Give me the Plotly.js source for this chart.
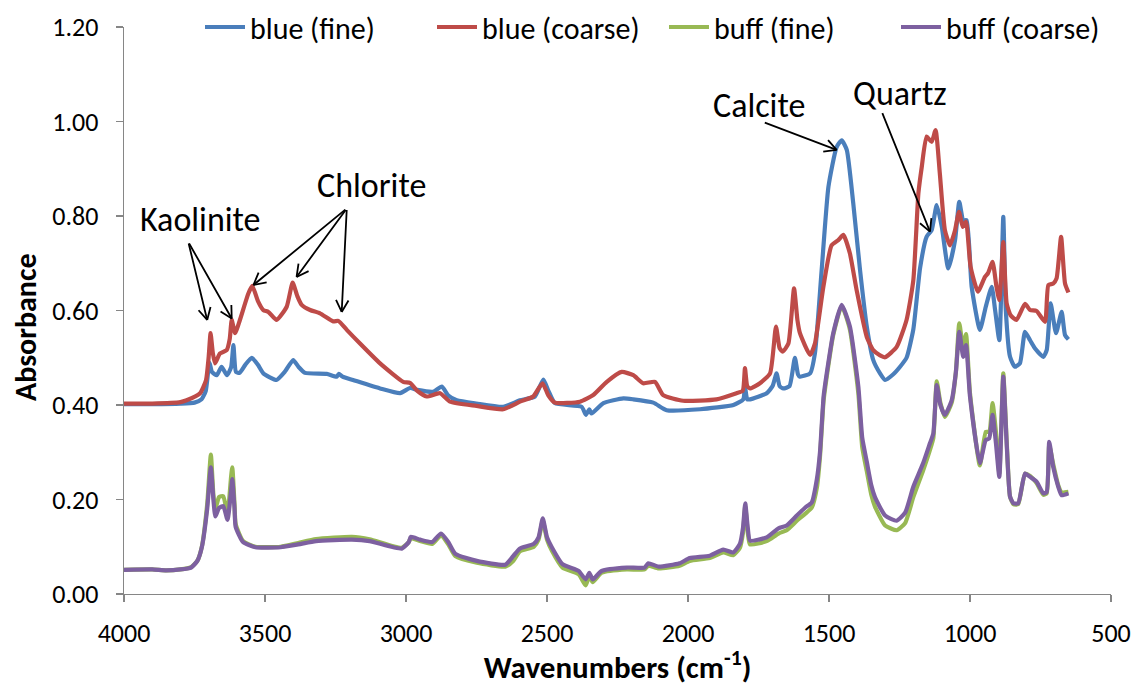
<!DOCTYPE html>
<html>
<head>
<meta charset="utf-8">
<script src="https://cdn.plot.ly/plotly-3.0.1.min.js"></script>
<style>
html,body{margin:0;padding:0;background:#fff;}
#chart{width:1138px;height:686px;}
</style>
</head>
<body>
<div id="chart"></div>
<script>
// ---- Data ----
var blueFineWn = [4000,3900,3800,3750,3725,3710,3697,3688,3671,3654,3635,3620,3612,3603,3590,3570,3547,3525,3506,3459,3430,3400,3380,3358,3281,3246,3238,3225,3188,3092,3021,2986,2960,2904,2873,2850,2820,2750,2655,2596,2543,2513,2495,2472,2377,2362,2350,2342,2300,2229,2194,2123,2076,1957,1839,1804,1798,1790,1780,1721,1700,1686,1675,1662,1640,1621,1610,1603,1567,1550,1526,1502,1473,1455,1437,1414,1390,1366,1343,1319,1301,1272,1248,1225,1201,1177,1154,1136,1118,1100,1077,1053,1038,1024,1012,994,965,944,923,911,896,882,873,858,841,823,805,787,770,740,728,714,695,675,663,651];
var blueFineAbs = [0.402,0.402,0.403,0.405,0.412,0.430,0.490,0.470,0.463,0.481,0.463,0.480,0.527,0.470,0.468,0.485,0.500,0.485,0.467,0.453,0.470,0.495,0.480,0.468,0.466,0.460,0.466,0.460,0.453,0.435,0.425,0.436,0.432,0.428,0.439,0.420,0.410,0.403,0.396,0.410,0.418,0.454,0.430,0.404,0.396,0.379,0.391,0.382,0.404,0.414,0.412,0.405,0.389,0.391,0.400,0.412,0.439,0.412,0.412,0.425,0.440,0.467,0.440,0.435,0.440,0.500,0.465,0.460,0.467,0.509,0.686,0.862,0.946,0.960,0.940,0.827,0.686,0.566,0.495,0.467,0.453,0.465,0.481,0.500,0.560,0.690,0.756,0.770,0.823,0.777,0.689,0.749,0.830,0.791,0.791,0.650,0.559,0.608,0.650,0.601,0.537,0.798,0.601,0.502,0.481,0.488,0.555,0.537,0.520,0.502,0.516,0.615,0.552,0.597,0.548,0.539];

var blueCoarseWn = [4000,3900,3800,3778,3730,3709,3700,3693,3685,3677,3660,3636,3625,3618,3606,3589,3559,3545,3525,3506,3488,3459,3423,3402,3385,3370,3340,3305,3258,3240,3210,3163,3092,3010,2986,2960,2927,2879,2844,2750,2655,2596,2549,2516,2495,2472,2383,2336,2288,2235,2194,2159,2117,2088,2017,1899,1828,1806,1798,1790,1780,1745,1709,1688,1675,1664,1644,1624,1612,1603,1567,1550,1520,1491,1467,1449,1426,1402,1366,1343,1319,1301,1260,1225,1201,1183,1171,1154,1136,1122,1107,1089,1071,1053,1039,1026,1014,998,972,947,936,920,906,896,882,870,856,835,805,787,764,734,722,705,693,677,663,651];
var blueCoarseAbs = [0.403,0.403,0.406,0.410,0.425,0.453,0.500,0.552,0.510,0.488,0.509,0.516,0.540,0.580,0.552,0.580,0.636,0.652,0.620,0.601,0.597,0.580,0.608,0.659,0.630,0.612,0.601,0.594,0.577,0.578,0.559,0.530,0.488,0.449,0.447,0.430,0.418,0.425,0.407,0.398,0.391,0.407,0.418,0.446,0.420,0.405,0.407,0.421,0.449,0.470,0.463,0.446,0.449,0.421,0.409,0.412,0.425,0.430,0.478,0.440,0.435,0.446,0.467,0.566,0.520,0.513,0.530,0.647,0.580,0.552,0.506,0.530,0.650,0.738,0.749,0.760,0.721,0.643,0.544,0.516,0.505,0.501,0.523,0.580,0.664,0.848,0.904,0.968,0.957,0.982,0.890,0.770,0.738,0.770,0.809,0.777,0.788,0.693,0.640,0.671,0.679,0.703,0.650,0.622,0.745,0.615,0.590,0.580,0.614,0.601,0.599,0.576,0.654,0.657,0.668,0.756,0.657,0.638];

var buffWn = [4000,3900,3850,3800,3762,3740,3724,3705,3692,3683,3676,3663,3648,3633,3620,3616,3608,3604,3578,3534,3445,3382,3319,3192,3129,3015,2990,2983,2950,2907,2876,2850,2825,2749,2648,2620,2597,2547,2530,2515,2500,2483,2445,2388,2363,2350,2338,2306,2217,2154,2141,2104,2030,1994,1923,1875,1840,1816,1805,1797,1788,1780,1721,1679,1650,1614,1584,1561,1543,1532,1519,1508,1485,1455,1426,1396,1382,1366,1350,1337,1301,1260,1230,1201,1166,1142,1130,1118,1105,1089,1065,1050,1038,1024,1014,1000,965,944,932,920,908,896,882,870,858,846,829,805,787,764,740,728,719,705,687,675,651];
var buffFineAbs = [0.051,0.052,0.050,0.052,0.057,0.070,0.100,0.190,0.295,0.210,0.180,0.205,0.207,0.170,0.250,0.268,0.190,0.148,0.112,0.100,0.100,0.108,0.116,0.121,0.116,0.098,0.110,0.118,0.112,0.106,0.124,0.105,0.080,0.066,0.058,0.070,0.090,0.100,0.115,0.155,0.115,0.092,0.056,0.042,0.018,0.038,0.025,0.045,0.052,0.052,0.060,0.054,0.060,0.070,0.076,0.088,0.082,0.098,0.130,0.185,0.130,0.105,0.112,0.128,0.135,0.155,0.170,0.183,0.225,0.290,0.410,0.460,0.548,0.610,0.560,0.425,0.310,0.260,0.210,0.185,0.145,0.135,0.150,0.205,0.262,0.305,0.330,0.450,0.405,0.375,0.405,0.470,0.573,0.520,0.550,0.425,0.272,0.343,0.343,0.404,0.343,0.255,0.467,0.325,0.206,0.190,0.190,0.255,0.250,0.235,0.210,0.213,0.315,0.275,0.230,0.215,0.216];
var buffCoarseAbs = [0.051,0.052,0.050,0.052,0.056,0.070,0.099,0.180,0.268,0.200,0.164,0.182,0.186,0.157,0.220,0.243,0.180,0.142,0.110,0.099,0.099,0.105,0.112,0.115,0.112,0.096,0.110,0.121,0.115,0.110,0.128,0.110,0.085,0.070,0.062,0.080,0.096,0.106,0.120,0.160,0.120,0.099,0.063,0.049,0.031,0.045,0.031,0.049,0.056,0.056,0.065,0.058,0.065,0.076,0.081,0.094,0.088,0.106,0.140,0.192,0.140,0.113,0.120,0.139,0.145,0.166,0.183,0.194,0.243,0.300,0.419,0.467,0.552,0.612,0.566,0.439,0.330,0.280,0.230,0.205,0.166,0.155,0.172,0.227,0.277,0.319,0.340,0.442,0.400,0.379,0.410,0.470,0.555,0.502,0.527,0.418,0.277,0.326,0.329,0.379,0.319,0.248,0.460,0.319,0.206,0.192,0.192,0.255,0.248,0.238,0.213,0.216,0.322,0.269,0.227,0.209,0.213];

var seriesNames = ["blue (fine)","blue (coarse)","buff (fine)","buff (coarse)"];
var yTickVals = [0,0.2,0.4,0.6,0.8,1.0,1.2];
var xTickVals = [4000,3500,3000,2500,2000,1500,1000,500];

// annotation labels
var labelText = ["Kaolinite","Chlorite","Calcite","Quartz"];
var labelWn   = [3730, 3124, 1748, 1248];
var labelAbs  = [0.792, 0.865, 1.033, 1.060];
// arrows: tail -> head
var arrowTailWn  = [3772,3772,3210,3210,3210,1733,1313];
var arrowTailAbs = [0.745,0.745,0.816,0.816,0.816,0.999,1.021];
var arrowHeadWn  = [3705,3618,3541,3388,3228,1473,1142];
var arrowHeadAbs = [0.580,0.583,0.654,0.671,0.597,0.940,0.767];

var FONT = "Carlito, Calibri, Lato, sans-serif";
var colors = ["#4a7ebb","#be4b48","#98b954","#7d60a0"];

var M = {l:124, r:27, t:27, b:92, autoexpand:false};
var W = 1138, H = 686;
var XR = [4000,500], YR = [0,1.2];
var plotW = W - M.l - M.r, plotH = H - M.t - M.b;
function toPx(wn){ return (wn - XR[0])/(XR[1]-XR[0])*plotW; }
function toPy(v){ return -(v - YR[0])/(YR[1]-YR[0])*plotH; }

function mk(i, xs, ys){
  return {x: xs, y: ys, name: seriesNames[i], type:'scatter', mode:'lines',
    line:{color:colors[i], width:4.2, shape:'spline', smoothing:0.5}};
}
var traces = [
  mk(0, blueFineWn, blueFineAbs),
  mk(1, blueCoarseWn, blueCoarseAbs),
  mk(2, buffWn, buffFineAbs),
  mk(3, buffWn, buffCoarseAbs)
];

var annotations = [];
for (var i=0;i<labelText.length;i++){
  annotations.push({x:labelWn[i], y:labelAbs[i], xref:'x', yref:'y', text:labelText[i],
    showarrow:false, font:{family:FONT, size:34, color:'#000'}, xanchor:'center', yanchor:'middle'});
}
var HEADLEN = 15, HEADANG = 28*Math.PI/180;
for (var j=0;j<arrowHeadWn.length;j++){
  annotations.push({x:arrowHeadWn[j], y:arrowHeadAbs[j], ax:arrowTailWn[j], ay:arrowTailAbs[j],
    xref:'x', yref:'y', axref:'x', ayref:'y', text:'', showarrow:true,
    arrowhead:0, arrowwidth:1.8, arrowcolor:'#000', standoff:0, startstandoff:0});
  var dx = toPx(arrowTailWn[j]) - toPx(arrowHeadWn[j]);
  var dy = toPy(arrowTailAbs[j]) - toPy(arrowHeadAbs[j]);
  var ang = Math.atan2(dy, dx);
  [HEADANG, -HEADANG].forEach(function(a){
    annotations.push({x:arrowHeadWn[j], y:arrowHeadAbs[j], xref:'x', yref:'y',
      ax: HEADLEN*Math.cos(ang+a), ay: HEADLEN*Math.sin(ang+a), text:'', showarrow:true,
      arrowhead:0, arrowwidth:1.8, arrowcolor:'#000', standoff:0, startstandoff:0});
  });
}
// y-axis title (rotated text, slightly below the plot's middle as in the reference)
annotations.push({xref:'paper', yref:'paper', x:(25 - M.l)/plotW, y:(H - M.b - 327)/plotH,
  text:'<b>Absorbance</b>', textangle:-90, showarrow:false, xanchor:'center', yanchor:'middle',
  font:{family:FONT, size:30, color:'#000'}});

var axisCommon = {showgrid:false, zeroline:false, showline:true, linecolor:'#868686', linewidth:1.4,
  ticks:'outside', tickcolor:'#868686', tickwidth:1.4, ticklen:7, automargin:false,
  tickfont:{family:FONT, size:26, color:'#000'}};

var layout = {
  width:W, height:H,
  margin:M,
  paper_bgcolor:'#fff', plot_bgcolor:'#fff',
  font:{family:FONT, color:'#000'},
  showlegend:true,
  legend:{orientation:'h', x:(200 - M.l)/plotW, xanchor:'left', y:1.0, yanchor:'middle',
    font:{family:FONT, size:30, color:'#000'}, bgcolor:'rgba(0,0,0,0)', itemwidth:40,
    entrywidth:177, entrywidthmode:'pixels'},
  xaxis: Object.assign({}, axisCommon, {range:XR, tickmode:'array', tickvals:xTickVals,
    ticktext:xTickVals.map(String), ticklabelstandoff:8,
    title:{text:'<b>Wavenumbers (cm<sup>-1</sup>)</b>', font:{family:FONT, size:31, color:'#000'}, standoff:2}}),
  yaxis: Object.assign({}, axisCommon, {range:YR, tickmode:'array', tickvals:yTickVals,
    ticktext:yTickVals.map(function(v){return v.toFixed(2);}), ticklabelstandoff:12}),
  annotations: annotations
};

Plotly.newPlot('chart', traces, layout, {staticPlot:true, displayModeBar:false});
</script>
</body>
</html>
